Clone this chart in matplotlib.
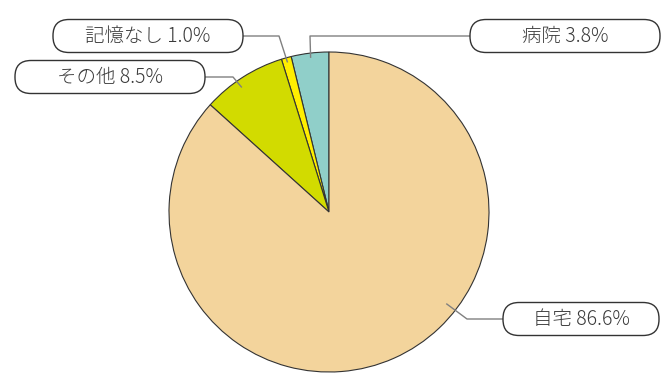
import numpy as np
import matplotlib
matplotlib.use('Agg')
import matplotlib.pyplot as plt
from matplotlib.patches import FancyBboxPatch

plt.rcParams['font.family'] = ['Noto Sans CJK JP', 'DejaVu Sans']

# data (counter-clockwise from 12 o'clock)
labels = ['病院', '記憶なし', 'その他', '自宅']
shares = [3.8, 1.0, 8.5, 86.6]
colors = ['#90CFC9', '#FFEE00', '#D2DB00', '#F3D49C']

# label placement in pixel coords (box center x, box center y, box width)
box_pos = [(565, 36, 190), (148, 36, 190), (110, 77, 190), (581, 319, 156)]
# angle / radius (fraction) where the leader touches the slice
anchor_ang = [96.8, 105.5, 125.0, 322.0]
anchor_r = [0.97, 0.97, 0.95, 0.93]
# elbow points of the leader
elbow = [(310, 36), (279, 36), (233, 77), (467, 319)]

W, H = 671, 380
fig = plt.figure(figsize=(W / 100, H / 100), dpi=100)
ax = fig.add_axes([0, 0, 1, 1])
ax.set_aspect('equal')

cx, cy, R = 329, H - 212, 160
ax.pie(shares, colors=colors, startangle=90, counterclock=True,
       center=(cx, cy), radius=R, frame=True,
       wedgeprops=dict(edgecolor='#333333', linewidth=0.8))
ax.set_xlim(0, W)
ax.set_ylim(0, H)
ax.axis('off')

for lab, val, (bx, by, bw), ang, rf, (ex, ey) in zip(labels, shares, box_pos,
                                                     anchor_ang, anchor_r, elbow):
    by = H - by
    ey = H - ey
    a = np.radians(ang)
    px = cx + rf * R * np.cos(a)
    py = cy + rf * R * np.sin(a)
    edge_x = bx - bw / 2 if bx > cx else bx + bw / 2
    ax.plot([px, ex, edge_x], [py, ey, by], color='#808080', lw=1.0,
            solid_capstyle='butt', zorder=3)
    bh = 33
    box = FancyBboxPatch((bx - bw / 2, by - bh / 2), bw, bh,
                         boxstyle='round,pad=0,rounding_size=16',
                         facecolor='white', edgecolor='#333333', lw=1.0, zorder=4)
    ax.add_patch(box)
    ax.text(bx, by, f'{lab} {val:.1f}%', ha='center', va='center',
            fontsize=14, fontweight='light', color='#3a3a3a', zorder=5)

fig.savefig('out.png', dpi=100)
